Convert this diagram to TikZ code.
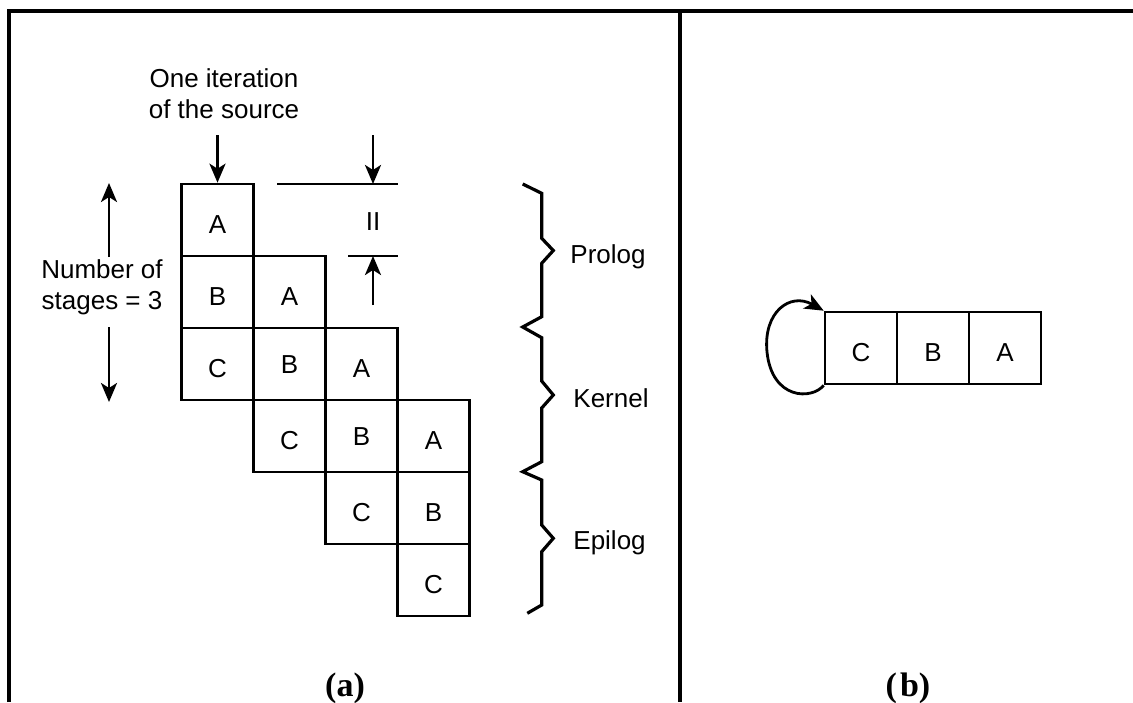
\documentclass[tikz,border=0pt]{standalone}
\usepackage{fontspec}
\setmainfont{Liberation Sans}
\newfontfamily\lblfont{Liberation Serif}
\usetikzlibrary{arrows.meta}
\tikzset{
  txt/.style={font=\fontsize{13}{15.5}\selectfont, inner sep=0pt, align=center},
  cell/.style={draw, line width=1.3pt, minimum width=36pt, minimum height=36pt, inner sep=0pt,
    font=\fontsize{13}{15.5}\selectfont, text height=13.4pt, text depth=0pt},
  cellhi/.style={cell, text height=9.3pt},
  arr/.style={line width=1.4pt, -{Stealth[length=9.5pt, width=8pt, inset=2.5pt]}},
  frame/.style={line width=1.9pt},
  brace/.style={line width=1.6pt, line join=miter},
  dim/.style={line width=1.3pt},
  sub/.style={font=\lblfont\bfseries\fontsize{17}{20}\selectfont, inner sep=0pt, anchor=base}
}
\begin{document}
\begin{tikzpicture}[x=0.5pt, y=-0.5pt]
\useasboundingbox (0,0) rectangle (1133,702);
% frame
\draw[frame] (9,702) -- (9,11) -- (1133,11);
\draw[frame] (680,11) -- (680,702);

% cells of (a)
\node[cell] (a00) at (217.5,220) {A};
\node[cell] (a01) at (217.5,292) {B};
\node[cell] (a02) at (217.5,364) {C};
\node[cell] (a11) at (289.5,292) {A};
\node[cellhi] (a12) at (289.5,364) {B};
\node[cell] (a13) at (289.5,436) {C};
\node[cell] (a22) at (361.5,364) {A};
\node[cellhi] (a23) at (361.5,436) {B};
\node[cell] (a24) at (361.5,508) {C};
\node[cell] (a33) at (433.5,436) {A};
\node[cell] (a34) at (433.5,508) {B};
\node[cell] (a35) at (433.5,580) {C};

% one iteration
\node[txt] (iter) at (224,94) {One iteration\\of the source};
\coordinate (iterstart) at (217.5,135);
\draw[arr] (iterstart) -- (a00.north);

% II dimension
\coordinate (iitopl) at (277,184);
\coordinate (iitopr) at (398,184);
\coordinate (iibotl) at (348,256);
\coordinate (iibotr) at (398,256);
\coordinate (iiup) at (373,135);
\coordinate (iiupend) at (373,184);
\coordinate (iidn) at (373,305);
\coordinate (iidnend) at (373,256);
\draw[dim] (iitopl) -- (iitopr);
\draw[dim] (iibotl) -- (iibotr);
\draw[arr] (iiup) -- (iiupend);
\draw[arr] (iidn) -- (iidnend);
\node[txt] (ii) at (373,222) {II};

% number of stages
\node[txt] (stages) at (102,287) {Number of\\stages = 3};
\coordinate (st1a) at (109,257);
\coordinate (st1b) at (109,183);
\coordinate (st2a) at (109,327);
\coordinate (st2b) at (109,402);
\draw[arr] (st1a) -- (st1b);
\draw[arr] (st2a) -- (st2b);

% braces
\draw[brace] (522.7,184) -- (541.7,193.3) -- (541.7,238.3) -- (553.3,250.5) -- (541.7,263.3)
  -- (541.7,316.7) -- (522.7,327) -- (541.7,337.7) -- (541.7,381) -- (553.3,395) -- (541.7,408)
  -- (541.7,461.7) -- (522.7,471.7) -- (541.7,480) -- (541.7,525) -- (553.3,538.3) -- (541.7,551.7)
  -- (541.7,605) -- (527.3,613.3);
\node[txt, anchor=west] (prolog) at (570,257) {Prolog};
\node[txt, anchor=west] (kernel) at (573,398) {Kernel};
\node[txt, anchor=west] (epilog) at (573,543) {Epilog};

% (b)
\node[cell] (bc) at (861,348) {C};
\node[cell] (bb) at (933,348) {B};
\node[cell] (ba) at (1005,348) {A};
\draw[arr] (bc.south west) .. controls (812,400) and (772,400) .. (767,352)
  .. controls (763,312) and (790,292) .. (bc.north west);

% sub labels
\node[sub] (la) at (345,696) {(a)};
\node[sub] (lb) at (908,696) {(\kern1.5pt b)};
\end{tikzpicture}
\end{document}
